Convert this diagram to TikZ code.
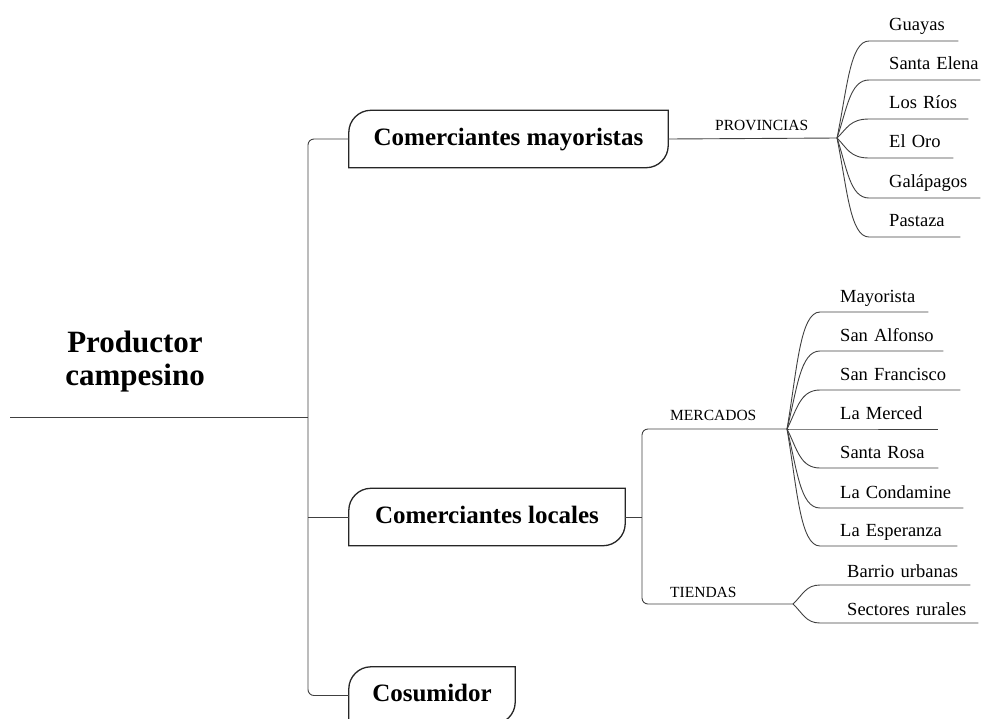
\documentclass[tikz,border=0pt]{standalone}
\usepackage{fontspec}
\setmainfont{Liberation Serif}

% frame of a branch box: rounded top-left and bottom-right corners
\newcommand{\tabframe}[1]{%
  \draw[frame] (#1.south west) -- ([yshift=-22pt]#1.north west)
    .. controls ([yshift=-10pt]#1.north west) and ([xshift=10pt]#1.north west) .. ([xshift=22pt]#1.north west)
    -- (#1.north east) -- ([yshift=22pt]#1.south east)
    .. controls ([yshift=10pt]#1.south east) and ([xshift=-10pt]#1.south east) .. ([xshift=-22pt]#1.south east) -- cycle;}

\begin{document}
\begin{tikzpicture}[x=1pt, y=-1pt,
    link/.style={draw=black!75, line width=0.9pt},
    frame/.style={draw=black!85, line width=1.3pt},
    branch/.style={font=\fontsize{25}{28}\selectfont\bfseries, minimum height=57pt, inner sep=0pt, text height=12pt, text depth=0pt},
    group/.style={font=\fontsize{15.5}{17}\selectfont, anchor=base west, inner sep=0pt},
    leaf/.style={font=\fontsize{18.5}{20}\selectfont, anchor=base west, inner sep=0pt, align=left}]
    \useasboundingbox (0,0) rectangle (981,718);
    \clip (0,0) rectangle (981,718);

    % root
    \node[font=\fontsize{31}{33}\selectfont\bfseries, align=center] (prod) at (135,362) {Productor\\campesino};
    \coordinate (start) at (10,417);
    \coordinate (trunk) at (308,417);

    % branches
    \node[branch, minimum width=319pt] (cmay) at (508.5,139) {Comerciantes mayoristas};
    \node[branch, minimum width=276pt] (cloc) at (487,517) {Comerciantes locales};
    \node[branch, minimum width=166pt] (cons) at (432,695.5) {Cosumidor};
    \tabframe{cmay}
    \tabframe{cloc}
    \tabframe{cons}

    \draw[link] (start) -- (trunk);
    \draw[link, rounded corners=6pt] (cmay.west) -| (trunk) |- (cons.west);
    \draw[link] (cloc.west) -- (cloc.west -| trunk);

    % provincias
    \coordinate (provhub) at (837,138);
    \node[group] (prov) at (715,130) {PROVINCIAS};
    \draw[link] (cmay.east) -- (provhub);
    \foreach \k/\yy/\xe/\txt in {1/41/958/Guayas, 2/80/980/Santa Elena, 3/119/968/Los Ríos,
        4/158/953/El Oro, 5/198/980/Galápagos, 6/237/960/Pastaza} {
      \pgfmathsetmacro\leafw{\xe-889}
      \node[leaf, text width=\leafw pt] (p\k) at (889,\yy-11) {\txt};
      \draw[link] (provhub) .. controls (847,{(138+\yy)/2}) and (850,\yy)
        .. ([shift={(-20pt,-11pt)}]p\k.base west) -- ([yshift=-11pt]p\k.base east);
    }

    % mercados y tiendas
    \coordinate (split) at (642,517);
    \coordinate (merchub) at (787,429);
    \coordinate (tienhub) at (793,604);
    \node[group] (merc) at (670,420) {MERCADOS};
    \node[group] (tien) at (670,597) {TIENDAS};
    \draw[link] (cloc.east) -- (split);
    \draw[link, rounded corners=6pt] (merchub) -| (split) |- (tienhub);

    \foreach \k/\yy/\xe/\txt in {1/312/928/Mayorista, 2/351/943/San Alfonso, 3/390/960/San Francisco,
        4/429/938/La Merced, 5/468/938/Santa Rosa, 6/508/963/La Condamine, 7/546/957/La Esperanza} {
      \pgfmathsetmacro\leafw{\xe-840}
      \node[leaf, text width=\leafw pt] (m\k) at (840,\yy-10) {\txt};
      \draw[link] (merchub) .. controls (797,{(429+\yy)/2}) and (800,\yy)
        .. ([shift={(-20pt,-10pt)}]m\k.base west) -- ([yshift=-10pt]m\k.base east);
    }

    \foreach \k/\yy/\xe/\txt in {1/585/970/Barrio urbanas, 2/623/978/Sectores rurales} {
      \pgfmathsetmacro\leafw{\xe-847}
      \node[leaf, text width=\leafw pt] (t\k) at (847,\yy-8) {\txt};
      \draw[link] (tienhub) .. controls (803,{(604+\yy)/2}) and (806,\yy)
        .. ([shift={(-27pt,-8pt)}]t\k.base west) -- ([yshift=-8pt]t\k.base east);
    }
\end{tikzpicture}
\end{document}
